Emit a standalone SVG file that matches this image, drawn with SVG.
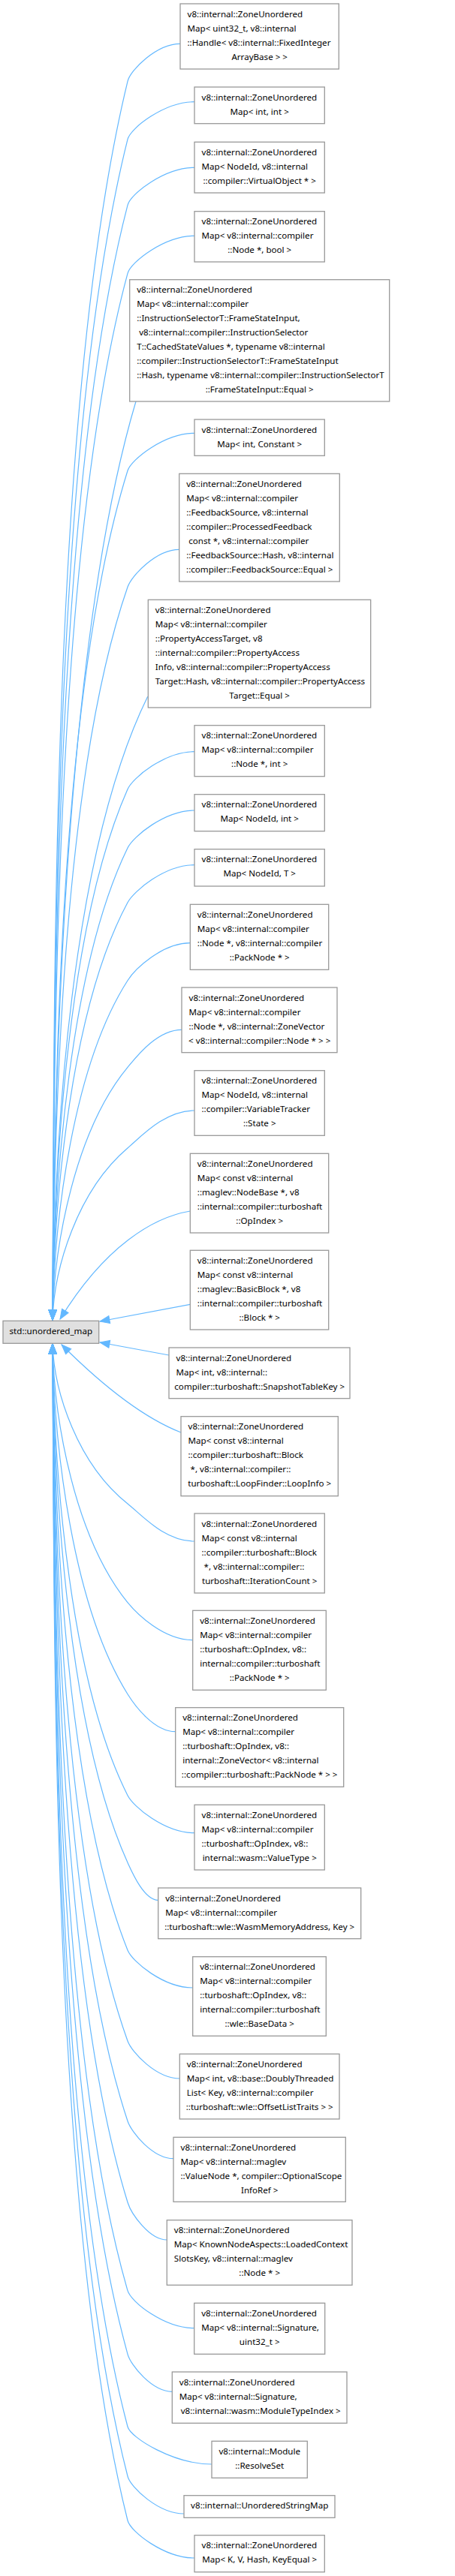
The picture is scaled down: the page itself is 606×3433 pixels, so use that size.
<svg xmlns="http://www.w3.org/2000/svg" width="606" height="3433" viewBox="0 0 606 3433">
<style>
text{font-family:"Noto Sans","DejaVu Sans",sans-serif;font-size:11.6px;fill:#000}
.c{text-anchor:middle}
.n rect{fill:#fff;stroke:#999;stroke-width:1.3}
.b rect{fill:#e0e0e0;stroke:#999;stroke-width:1.3}
.e{fill:none;stroke:#63b8ff;stroke-width:1.2;marker-end:url(#arr)}
</style>
<defs>
<marker id="arr" markerUnits="userSpaceOnUse" markerWidth="16" markerHeight="14" refX="13" refY="5" orient="auto" overflow="visible"><path d="M0,0 L13,5 L0,10 Z" fill="#63b8ff" stroke="#63b8ff" stroke-width="1"/></marker>
</defs>
<rect width="606" height="3433" fill="#fff"/>
<g id="edges">
<path class="e" d="M240,58.3 C208.5,58.3 173.6,93.3 170,108.3 C70,521 72,1263.8 70,1759"/>
<path class="e" d="M259,135.7 C219,135.7 173.7,170.7 170,185.7 C71.8,579 72,1287 70,1759"/>
<path class="e" d="M259,223.3 C219,223.3 173.9,258.3 170,273.3 C73.8,644.7 72,1313.3 70,1759"/>
<path class="e" d="M259,314.3 C219,314.3 174,349.3 170,364.3 C75.9,713 72,1340.6 70,1759"/>
<path class="e" d="M181,535 C90,841 72,1392 70,1759"/>
<path class="e" d="M259,577.3 C219,577.3 174.7,612.3 170,627.3 C82,910.2 72,1419.5 70,1759"/>
<path class="e" d="M238.7,732.3 C207.8,732.3 175.2,767.3 170,782.3 C85.5,1026.5 72,1466 70,1759"/>
<path class="e" d="M196.7,928.3 C95,1136 72,1509.8 70,1759"/>
<path class="e" d="M259,1001.7 C219,1001.7 176.6,1036.7 170,1051.7 C91.7,1228.5 72,1546.8 70,1759"/>
<path class="e" d="M259,1080 C219,1080 177.3,1115 170,1130 C93.5,1287.3 72,1570.3 70,1759"/>
<path class="e" d="M259,1152.7 C219,1152.7 178.1,1187.7 170,1202.7 C95.2,1341.8 72,1592.1 70,1759"/>
<path class="e" d="M253.3,1256.7 C215.8,1256.7 179.6,1291.7 170,1306.7 C97.6,1419.8 72,1623.3 70,1759"/>
<path class="e" d="M242,1372.3 C209.6,1372.3 182.4,1407.3 170,1422.3 C100.3,1506.5 72,1658 70,1759"/>
<path class="e" d="M259,1480 C219,1480 187.6,1515 170,1530 C102.7,1587.3 72,1690.3 70,1759"/>
<path class="e" d="M253.3,1614 C205,1622 140,1660 80,1758"/>
<path class="e" d="M253.3,1738.3 L133,1761"/>
<path class="e" d="M225,1806 L133,1789"/>
<path class="e" d="M241,1909 C200,1893 150,1860 82,1792"/>
<path class="e" d="M259,2054 C219,2054 188.8,2019 170,2004 C103.1,1950.7 72,1854.9 70,1791"/>
<path class="e" d="M256.7,2185.7 C217.7,2185.7 182.2,2150.7 170,2135.7 C100.1,2049.5 72,1894.4 70,1791"/>
<path class="e" d="M233.7,2307.7 C205,2307.7 179.3,2272.7 170,2257.7 C97.3,2141 72,1931 70,1791"/>
<path class="e" d="M259,2442.7 C219,2442.7 177.6,2407.7 170,2392.7 C94.2,2242.3 72,1971.5 70,1791"/>
<path class="e" d="M210.7,2532.3 C192.4,2532.3 176.8,2497.3 170,2482.3 C92.1,2309.5 72,1998.4 70,1791"/>
<path class="e" d="M256.7,2649 C217.7,2649 176,2614 170,2599 C89.4,2397 72,2033.4 70,1791"/>
<path class="e" d="M239.3,2770 C208.1,2770 175.4,2735 170,2720 C86.6,2487.7 72,2069.7 70,1791"/>
<path class="e" d="M231,2876.7 C203.5,2876.7 175,2841.7 170,2826.7 C84.2,2567.8 72,2101.7 70,1791"/>
<path class="e" d="M222.3,2985 C198.8,2985 174.6,2950 170,2935 C81.7,2649 72,2134.2 70,1791"/>
<path class="e" d="M258.7,3102.7 C218.8,3102.7 174.3,3067.7 170,3052.7 C79,2737.3 72,2169.5 70,1791"/>
<path class="e" d="M229.3,3187.3 C202.6,3187.3 174.1,3152.3 170,3137.3 C77,2800.7 72,2194.9 70,1791"/>
<path class="e" d="M282,3284 C231.6,3284 174,3249 170,3234 C74.8,2873.2 72,2223.9 70,1791"/>
<path class="e" d="M245,3350 C211.2,3350 173.8,3315 170,3300 C73.3,2922.7 72,2243.7 70,1791"/>
<path class="e" d="M259,3409 C219,3409 173.8,3374 170,3359 C71.9,2967 72,2261.4 70,1791"/>
</g>
<g id="node1" class="n"><rect x="240" y="5" width="211.3" height="87"/><text x="249.5" y="22.5">v8::internal::ZoneUnordered</text><text x="249.5" y="41.5">Map&lt; uint32_t, v8::internal</text><text x="249.5" y="60.5">::Handle&lt; v8::internal::FixedInteger</text><text class="c" x="345.7" y="79.5">ArrayBase &gt; &gt;</text></g>
<g id="node2" class="n"><rect x="259" y="116" width="173.3" height="48.7"/><text x="268.5" y="133.5">v8::internal::ZoneUnordered</text><text class="c" x="345.7" y="152.5">Map&lt; int, int &gt;</text></g>
<g id="node3" class="n"><rect x="259" y="189.3" width="173.3" height="67.7"/><text x="268.5" y="206.8">v8::internal::ZoneUnordered</text><text x="268.5" y="225.8">Map&lt; NodeId, v8::internal</text><text class="c" x="345.7" y="244.8">::compiler::VirtualObject * &gt;</text></g>
<g id="node4" class="n"><rect x="259" y="281.7" width="173.3" height="67.3"/><text x="268.5" y="299.2">v8::internal::ZoneUnordered</text><text x="268.5" y="318.2">Map&lt; v8::internal::compiler</text><text class="c" x="345.7" y="337.2">::Node *, bool &gt;</text></g>
<g id="node5" class="n"><rect x="172.7" y="372.7" width="346" height="162.3"/><text x="182.2" y="390.2">v8::internal::ZoneUnordered</text><text x="182.2" y="409.2">Map&lt; v8::internal::compiler</text><text x="182.2" y="428.2">::InstructionSelectorT::FrameStateInput,</text><text x="182.2" y="447.2" xml:space="preserve"> v8::internal::compiler::InstructionSelector</text><text x="182.2" y="466.2">T::CachedStateValues *, typename v8::internal</text><text x="182.2" y="485.2">::compiler::InstructionSelectorT::FrameStateInput</text><text x="182.2" y="504.2">::Hash, typename v8::internal::compiler::InstructionSelectorT</text><text class="c" x="345.7" y="523.2">::FrameStateInput::Equal &gt;</text></g>
<g id="node6" class="n"><rect x="259" y="559" width="173.3" height="48.3"/><text x="268.5" y="576.5">v8::internal::ZoneUnordered</text><text class="c" x="345.7" y="595.5">Map&lt; int, Constant &gt;</text></g>
<g id="node7" class="n"><rect x="238.7" y="631.3" width="213.6" height="143.7"/><text x="248.2" y="648.8">v8::internal::ZoneUnordered</text><text x="248.2" y="667.8">Map&lt; v8::internal::compiler</text><text x="248.2" y="686.8">::FeedbackSource, v8::internal</text><text x="248.2" y="705.8">::compiler::ProcessedFeedback</text><text x="248.2" y="724.8" xml:space="preserve"> const *, v8::internal::compiler</text><text x="248.2" y="743.8">::FeedbackSource::Hash, v8::internal</text><text class="c" x="345.7" y="762.8">::compiler::FeedbackSource::Equal &gt;</text></g>
<g id="node8" class="n"><rect x="197.3" y="799.3" width="296.4" height="143.7"/><text x="206.8" y="816.8">v8::internal::ZoneUnordered</text><text x="206.8" y="835.8">Map&lt; v8::internal::compiler</text><text x="206.8" y="854.8">::PropertyAccessTarget, v8</text><text x="206.8" y="873.8">::internal::compiler::PropertyAccess</text><text x="206.8" y="892.8">Info, v8::internal::compiler::PropertyAccess</text><text x="206.8" y="911.8">Target::Hash, v8::internal::compiler::PropertyAccess</text><text class="c" x="345.7" y="930.8">Target::Equal &gt;</text></g>
<g id="node9" class="n"><rect x="259" y="966.7" width="173.3" height="68"/><text x="268.5" y="984.2">v8::internal::ZoneUnordered</text><text x="268.5" y="1003.2">Map&lt; v8::internal::compiler</text><text class="c" x="345.7" y="1022.2">::Node *, int &gt;</text></g>
<g id="node10" class="n"><rect x="259" y="1058.7" width="173.3" height="49"/><text x="268.5" y="1076.2">v8::internal::ZoneUnordered</text><text class="c" x="345.7" y="1095.2">Map&lt; NodeId, int &gt;</text></g>
<g id="node11" class="n"><rect x="259" y="1131.7" width="173.3" height="49.3"/><text x="268.5" y="1149.2">v8::internal::ZoneUnordered</text><text class="c" x="345.7" y="1168.2">Map&lt; NodeId, T &gt;</text></g>
<g id="node12" class="n"><rect x="253.3" y="1205.3" width="184.4" height="87"/><text x="262.8" y="1222.8">v8::internal::ZoneUnordered</text><text x="262.8" y="1241.8">Map&lt; v8::internal::compiler</text><text x="262.8" y="1260.8">::Node *, v8::internal::compiler</text><text class="c" x="345.7" y="1279.8">::PackNode * &gt;</text></g>
<g id="node13" class="n"><rect x="242" y="1316" width="207" height="86.7"/><text x="251.5" y="1333.5">v8::internal::ZoneUnordered</text><text x="251.5" y="1352.5">Map&lt; v8::internal::compiler</text><text x="251.5" y="1371.5">::Node *, v8::internal::ZoneVector</text><text class="c" x="345.7" y="1390.5">&lt; v8::internal::compiler::Node * &gt; &gt;</text></g>
<g id="node14" class="n"><rect x="259" y="1426.7" width="173.3" height="86.6"/><text x="268.5" y="1444.2">v8::internal::ZoneUnordered</text><text x="268.5" y="1463.2">Map&lt; NodeId, v8::internal</text><text x="268.5" y="1482.2">::compiler::VariableTracker</text><text class="c" x="345.7" y="1501.2">::State &gt;</text></g>
<g id="node15" class="n"><rect x="253.3" y="1537.3" width="184.4" height="105.7"/><text x="262.8" y="1554.8">v8::internal::ZoneUnordered</text><text x="262.8" y="1573.8">Map&lt; const v8::internal</text><text x="262.8" y="1592.8">::maglev::NodeBase *, v8</text><text x="262.8" y="1611.8">::internal::compiler::turboshaft</text><text class="c" x="345.7" y="1630.8">::OpIndex &gt;</text></g>
<g id="node16" class="n"><rect x="253.3" y="1666.3" width="184.4" height="105.7"/><text x="262.8" y="1683.8">v8::internal::ZoneUnordered</text><text x="262.8" y="1702.8">Map&lt; const v8::internal</text><text x="262.8" y="1721.8">::maglev::BasicBlock *, v8</text><text x="262.8" y="1740.8">::internal::compiler::turboshaft</text><text class="c" x="345.7" y="1759.8">::Block * &gt;</text></g>
<g id="node0" class="b"><rect x="4" y="1760.3" width="127.7" height="30"/><text class="c" x="67.8" y="1777.5">std::unordered_map</text></g>
<g id="node17" class="n"><rect x="225" y="1796" width="241" height="67.7"/><text x="234.5" y="1813.5">v8::internal::ZoneUnordered</text><text x="234.5" y="1832.5">Map&lt; int, v8::internal::</text><text class="c" x="345.7" y="1851.5">compiler::turboshaft::SnapshotTableKey &gt;</text></g>
<g id="node18" class="n"><rect x="241" y="1887.7" width="209.3" height="106"/><text x="250.5" y="1905.2">v8::internal::ZoneUnordered</text><text x="250.5" y="1924.2">Map&lt; const v8::internal</text><text x="250.5" y="1943.2">::compiler::turboshaft::Block</text><text x="250.5" y="1962.2" xml:space="preserve"> *, v8::internal::compiler::</text><text class="c" x="345.7" y="1981.2">turboshaft::LoopFinder::LoopInfo &gt;</text></g>
<g id="node19" class="n"><rect x="259" y="2017" width="173.3" height="106"/><text x="268.5" y="2034.5">v8::internal::ZoneUnordered</text><text x="268.5" y="2053.5">Map&lt; const v8::internal</text><text x="268.5" y="2072.5">::compiler::turboshaft::Block</text><text x="268.5" y="2091.5" xml:space="preserve"> *, v8::internal::compiler::</text><text class="c" x="345.7" y="2110.5">turboshaft::IterationCount &gt;</text></g>
<g id="node20" class="n"><rect x="256.7" y="2146.3" width="177.6" height="106"/><text x="266.2" y="2163.8">v8::internal::ZoneUnordered</text><text x="266.2" y="2182.8">Map&lt; v8::internal::compiler</text><text x="266.2" y="2201.8">::turboshaft::OpIndex, v8::</text><text x="266.2" y="2220.8">internal::compiler::turboshaft</text><text class="c" x="345.7" y="2239.8">::PackNode * &gt;</text></g>
<g id="node21" class="n"><rect x="233.7" y="2275.7" width="224" height="105.6"/><text x="243.2" y="2293.2">v8::internal::ZoneUnordered</text><text x="243.2" y="2312.2">Map&lt; v8::internal::compiler</text><text x="243.2" y="2331.2">::turboshaft::OpIndex, v8::</text><text x="243.2" y="2350.2">internal::ZoneVector&lt; v8::internal</text><text class="c" x="345.7" y="2369.2">::compiler::turboshaft::PackNode * &gt; &gt;</text></g>
<g id="node22" class="n"><rect x="259" y="2405.3" width="173.3" height="86.7"/><text x="268.5" y="2422.8">v8::internal::ZoneUnordered</text><text x="268.5" y="2441.8">Map&lt; v8::internal::compiler</text><text x="268.5" y="2460.8">::turboshaft::OpIndex, v8::</text><text class="c" x="345.7" y="2479.8">internal::wasm::ValueType &gt;</text></g>
<g id="node23" class="n"><rect x="210.7" y="2516" width="270" height="67.7"/><text x="220.2" y="2533.5">v8::internal::ZoneUnordered</text><text x="220.2" y="2552.5">Map&lt; v8::internal::compiler</text><text class="c" x="345.7" y="2571.5">::turboshaft::wle::WasmMemoryAddress, Key &gt;</text></g>
<g id="node24" class="n"><rect x="256.7" y="2607.7" width="177.6" height="105.6"/><text x="266.2" y="2625.2">v8::internal::ZoneUnordered</text><text x="266.2" y="2644.2">Map&lt; v8::internal::compiler</text><text x="266.2" y="2663.2">::turboshaft::OpIndex, v8::</text><text x="266.2" y="2682.2">internal::compiler::turboshaft</text><text class="c" x="345.7" y="2701.2">::wle::BaseData &gt;</text></g>
<g id="node25" class="n"><rect x="239.3" y="2737.3" width="212.7" height="86.7"/><text x="248.8" y="2754.8">v8::internal::ZoneUnordered</text><text x="248.8" y="2773.8">Map&lt; int, v8::base::DoublyThreaded</text><text x="248.8" y="2792.8">List&lt; Key, v8::internal::compiler</text><text class="c" x="345.7" y="2811.8">::turboshaft::wle::OffsetListTraits &gt; &gt;</text></g>
<g id="node26" class="n"><rect x="231" y="2848.3" width="229.3" height="86"/><text x="240.5" y="2865.8">v8::internal::ZoneUnordered</text><text x="240.5" y="2884.8">Map&lt; v8::internal::maglev</text><text x="240.5" y="2903.8">::ValueNode *, compiler::OptionalScope</text><text class="c" x="345.7" y="2922.8">InfoRef &gt;</text></g>
<g id="node27" class="n"><rect x="222.3" y="2958.7" width="246.7" height="86.6"/><text x="231.8" y="2976.2">v8::internal::ZoneUnordered</text><text x="231.8" y="2995.2">Map&lt; KnownNodeAspects::LoadedContext</text><text x="231.8" y="3014.2">SlotsKey, v8::internal::maglev</text><text class="c" x="345.7" y="3033.2">::Node * &gt;</text></g>
<g id="node28" class="n"><rect x="258.7" y="3069.3" width="174" height="68"/><text x="268.2" y="3086.8">v8::internal::ZoneUnordered</text><text x="268.2" y="3105.8">Map&lt; v8::internal::Signature,</text><text class="c" x="345.7" y="3124.8">uint32_t &gt;</text></g>
<g id="node29" class="n"><rect x="229.3" y="3161" width="232.7" height="68.3"/><text x="238.8" y="3178.5">v8::internal::ZoneUnordered</text><text x="238.8" y="3197.5">Map&lt; v8::internal::Signature,</text><text class="c" x="345.7" y="3216.5" xml:space="preserve"> v8::internal::wasm::ModuleTypeIndex &gt;</text></g>
<g id="node30" class="n"><rect x="282" y="3253.3" width="127.3" height="49"/><text class="c" x="345.7" y="3270.8">v8::internal::Module</text><text class="c" x="345.7" y="3289.8">::ResolveSet</text></g>
<g id="node31" class="n"><rect x="245" y="3325.7" width="201" height="29.6"/><text class="c" x="345.7" y="3343.2">v8::internal::UnorderedStringMap</text></g>
<g id="node32" class="n"><rect x="259" y="3378.7" width="173.3" height="49"/><text x="268.5" y="3396.2">v8::internal::ZoneUnordered</text><text class="c" x="345.7" y="3415.2">Map&lt; K, V, Hash, KeyEqual &gt;</text></g>
</svg>
